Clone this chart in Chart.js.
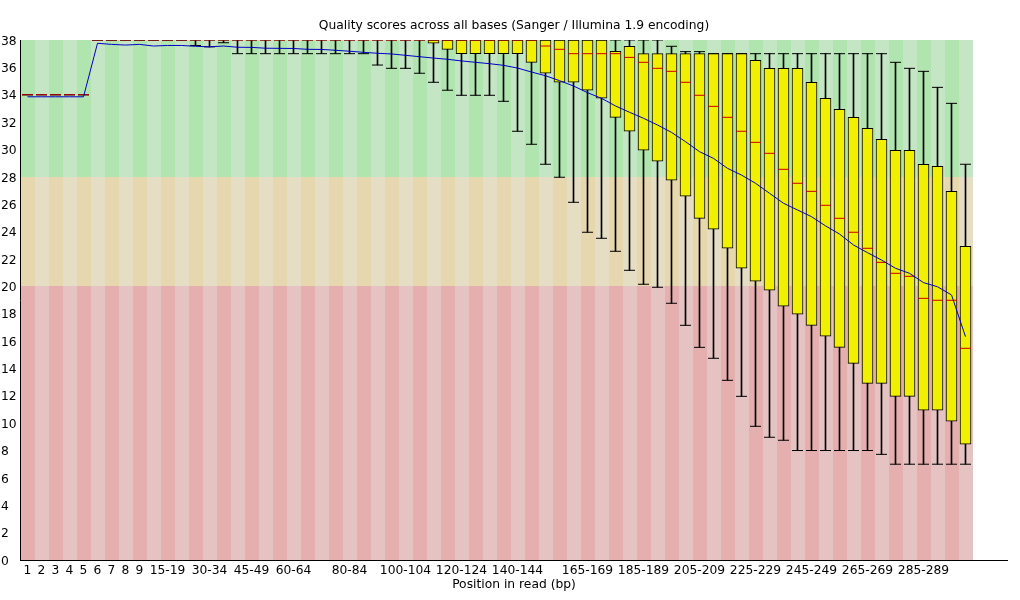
<!DOCTYPE html>
<html>
<head>
<meta charset="utf-8">
<script src="https://cdn.jsdelivr.net/npm/chart.js@4/dist/chart.umd.min.js"></script>
<style>
html, body { margin: 0; padding: 0; background: #ffffff; }
#c { display: block; width: 1020px; height: 600px; }
</style>
</head>
<body>
<canvas id="c" width="1020" height="600"></canvas>
<script>
// ---- categories (positions in read) ----
const categories = ["1","2","3","4","5","6","7","8","9",
  "10-14","15-19","20-24","25-29","30-34","35-39","40-44","45-49","50-54","55-59",
  "60-64","65-69","70-74","75-79","80-84","85-89","90-94","95-99","100-104","105-109",
  "110-114","115-119","120-124","125-129","130-134","135-139","140-144","145-149","150-154","155-159",
  "160-164","165-169","170-174","175-179","180-184","185-189","190-194","195-199","200-204","205-209",
  "210-214","215-219","220-224","225-229","230-234","235-239","240-244","245-249","250-254","255-259",
  "260-264","265-269","270-274","275-279","280-284","285-289","290-294","295-299","300-301"];

// tick labels shown on the x axis
const shownLabels = ["1","2","3","4","5","6","7","8","9","15-19","30-34","45-49","60-64","80-84",
  "100-104","120-124","140-144","165-169","185-189","205-209","225-229","245-249","265-269","285-289"];

// mean quality
const meanQ = [33.85,33.85,33.85,33.85,33.85,37.76,37.68,37.63,37.68,37.56,
  37.60,37.60,37.54,37.50,37.56,37.47,37.46,37.40,37.39,37.38,
  37.32,37.31,37.25,37.18,37.10,37.03,36.98,36.88,36.78,36.68,
  36.59,36.47,36.37,36.27,36.15,35.95,35.66,35.39,35.03,34.64,
  34.15,33.74,33.18,32.72,32.28,31.79,31.25,30.57,29.84,29.35,
  28.62,28.13,27.53,26.80,26.07,25.58,25.09,24.42,23.82,23.02,
  22.46,21.92,21.32,20.95,20.27,19.97,19.37,16.32];

// median quality
const medianQ = [34,34,34,34,34,38,38,38,38,38,
  38,38,38,38,38,38,38,38,38,38,
  38,38,38,38,38,38,38,38,38,38,
  38,38,38,38,38,38,38,37.56,37.32,37,
  37,37,37,36.73,36.37,35.93,35.71,34.91,33.96,33.15,
  32.35,31.33,30.52,29.72,28.55,27.53,26.94,25.92,24.97,23.95,
  22.78,21.75,20.95,20.73,19.12,18.98,18.98,15.47];

// upper quartile
const upperQ = [34,34,34,34,34,38,38,38,38,38,
  38,38,38,38,38,38,38,38,38,38,
  38,38,38,38,38,38,38,38,38,38,
  38,38,38,38,38,38,38,38,38,38,
  38,38,37.17,37.54,37,37,37,37,37,37,
  37,37,36.52,35.93,35.93,35.93,34.91,33.74,32.93,32.35,
  31.55,30.74,29.94,29.94,28.92,28.77,26.94,22.92];

// lower quartile
const lowerQ = [34,34,34,34,34,38,38,38,38,38,
  38,38,38,38,38,38,38,38,38,38,
  38,38,38,38,38,38,38,38,38,37.76,
  37.32,37,37,37,37,37,36.37,35.57,34.91,34.91,
  34.33,33.74,32.35,31.33,29.94,29.14,27.75,26.58,24.97,24.17,
  22.78,21.32,20.37,19.71,18.54,17.96,17.15,16.35,15.54,14.37,
  12.91,12.91,11.96,11.96,10.94,10.94,10.14,8.46];

// 90th percentile
const p90 = [34,34,34,34,34,38,38,38,38,38,
  38,38,38,38,38,38,38,38,38,38,
  38,38,38,38,38,38,38,38,38,38,
  38,38,38,38,38,38,38,38,38,38,
  38,38,38,38,38,38,37.54,37.15,37.15,37,
  37,37,37,37,37,37,37,37,37,37,
  37,37,36.37,35.93,35.71,34.54,33.37,28.92];

// 10th percentile
const p10 = [34,34,34,34,34,38,38,38,38,38,
  38,38,37.6,37.5,37.8,37,37,37,37,37,
  37,37,37,37,37,36.17,35.93,35.93,35.57,34.91,
  34.33,33.96,33.96,33.96,33.52,31.33,30.38,28.92,27.97,26.14,
  23.95,23.51,22.56,21.17,20.15,19.93,18.76,17.15,15.54,14.74,
  13.13,11.96,9.77,8.97,8.75,8,8,8,8,8,
  8,7.72,7,7,7,7,7,7];

// quality zone thresholds
const zoneLimits = [0, 20, 28, 38];

// ---- styling ----
const FONT = "'DejaVu Sans', 'Liberation Sans', sans-serif";
const FS = 12.3;
const zoneColors = [
  { light: 'rgb(230,195,195)', dark: 'rgb(230,175,175)' },
  { light: 'rgb(230,221,197)', dark: 'rgb(230,215,175)' },
  { light: 'rgb(196,230,196)', dark: 'rgb(176,229,176)' }
];

const xs = categories.map((_, i) => i + 0.5);
const pts = arr => arr.map((v, i) => ({ x: xs[i], y: v }));
const ranges = (lo, hi) => lo.map((v, i) => ({ x: xs[i], y: [v, hi[i]] }));

const zonePlugin = {
  id: 'zones',
  beforeDraw(chart) {
    const { ctx, scales: { x, y } } = chart;
    ctx.save();
    categories.forEach((c, i) => {
      const x0 = Math.round(x.getPixelForValue(i));
      const x1 = Math.round(x.getPixelForValue(i + 1));
      for (let z = 0; z < zoneLimits.length - 1; z++) {
        const yTop = Math.round(y.getPixelForValue(zoneLimits[z + 1]));
        const yBot = Math.round(y.getPixelForValue(zoneLimits[z]));
        ctx.fillStyle = (i % 2 === 0) ? zoneColors[z].dark : zoneColors[z].light;
        ctx.fillRect(x0, yTop, x1 - x0, yBot - yTop);
      }
    });
    ctx.restore();
  }
};

new Chart(document.getElementById('c'), {
  type: 'bar',
  data: {
    datasets: [
      {
        type: 'line', label: 'Mean', data: pts(meanQ),
        borderColor: 'rgb(0,0,200)', borderWidth: 1, pointRadius: 0, tension: 0,
        fill: false, order: 0
      },
      {
        type: 'scatter', label: 'Median', data: pts(medianQ),
        pointStyle: 'line', pointRadius: 5.5, pointBorderColor: 'rgb(200,0,0)',
        pointBackgroundColor: 'rgb(200,0,0)', pointBorderWidth: 1, borderColor: 'rgb(200,0,0)',
        order: 1
      },
      {
        type: 'bar', label: 'Inter-quartile range', data: ranges(lowerQ, upperQ),
        backgroundColor: 'rgb(240,240,0)', borderColor: '#000000', borderWidth: 1,
        borderSkipped: false, barThickness: 11, grouped: false, order: 2
      },
      {
        type: 'scatter', label: 'Whisker caps', data: pts(p10).concat(pts(p90)),
        pointStyle: 'line', pointRadius: 5.5, pointBorderColor: '#000000',
        pointBackgroundColor: '#000000', pointBorderWidth: 1, borderColor: '#000000',
        order: 3
      },
      {
        type: 'bar', label: '10-90%', data: ranges(p10, p90),
        backgroundColor: '#000000', borderWidth: 0, barThickness: 1, grouped: false, order: 4
      }
    ]
  },
  options: {
    responsive: false,
    devicePixelRatio: 1,
    animation: false,
    layout: { padding: { left: 1, right: 12.5, top: 0, bottom: 0 } },
    plugins: {
      legend: { display: false },
      tooltip: { enabled: false },
      title: {
        display: true, fullSize: false,
        text: 'Quality scores across all bases (Sanger / Illumina 1.9 encoding)',
        color: '#000000', font: { family: FONT, size: FS, weight: 'normal' },
        padding: { top: 18.3, bottom: 6.94 }
      }
    },
    scales: {
      x: {
        type: 'linear', min: 0, max: 70.5, offset: false,
        grid: { display: false, drawTicks: false },
        border: { display: true, color: '#000000', width: 1 },
        afterBuildTicks: s => { s.ticks = shownLabels.map(l => ({ value: categories.indexOf(l) + 0.5 })); },
        afterFit: s => { s.height = 40; },
        ticks: {
          autoSkip: false, maxRotation: 0, minRotation: 0, padding: 3, color: '#000000',
          font: { family: FONT, size: FS },
          callback: v => categories[Math.round(v - 0.5)]
        },
        title: {
          display: true, text: 'Position in read (bp)', color: '#000000',
          font: { family: FONT, size: FS }, padding: { top: 0, bottom: 8 }
        }
      },
      y: {
        type: 'linear', min: 0, max: 38,
        grid: { display: false, drawTicks: false },
        border: { display: true, color: '#000000', width: 1 },
        afterFit: s => { s.width = 19.5; },
        ticks: {
          stepSize: 2, padding: 0, crossAlign: 'far', labelOffset: 1.5, color: '#000000',
          font: { family: FONT, size: FS }
        }
      }
    }
  },
  plugins: [zonePlugin]
});
</script>
</body>
</html>
